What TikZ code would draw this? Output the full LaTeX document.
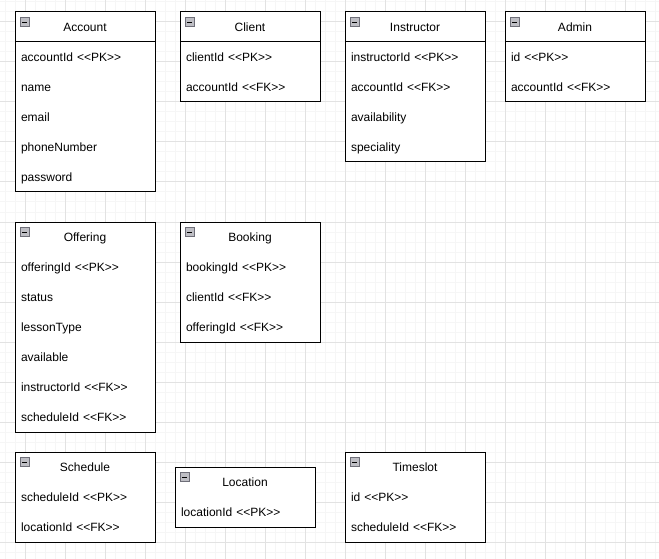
\documentclass[tikz,border=0pt]{standalone}
\usepackage{fontspec}
\setmainfont{Liberation Sans}[Ligatures=TeXOff]
\usetikzlibrary{positioning, fit}
\definecolor{minorgrid}{RGB}{246,246,246}
\definecolor{majorgrid}{RGB}{226,226,226}
\definecolor{iconfill}{RGB}{190,190,196}
\definecolor{iconline}{RGB}{110,110,120}
\tikzstyle{thin grid} = [draw=minorgrid, line width=1pt, step=10pt]
\tikzstyle{thick grid} = [draw=majorgrid, line width=1pt, step=40pt]
\tikzstyle{ehead} = [rectangle, minimum width=140pt, minimum height=30pt, inner sep=0pt, outer sep=0pt, text height=11pt, text depth=1.6pt, text centered, draw=black, fill=white, line width=1pt]
\tikzstyle{erow} = [rectangle, minimum width=140pt, minimum height=30pt, inner xsep=6pt, inner ysep=0pt, outer sep=0pt, text height=11pt, text depth=1.6pt, text width=128pt, align=left, fill=white]
\tikzstyle{entity} = [rectangle, inner sep=0pt, outer sep=0pt, draw=black, line width=1pt]
\tikzstyle{minbox} = [rectangle, minimum size=9pt, inner sep=0pt, outer sep=0pt, draw=iconline, fill=iconfill, line width=0.8pt,
  path picture={\draw[black, line width=0.9pt] ([xshift=2pt]path picture bounding box.west) -- ([xshift=-2pt]path picture bounding box.east);}]

\begin{document}
\begin{tikzpicture}[x=1pt, y=-1pt, node distance=0pt, font=\fontsize{12}{14}\selectfont]
\useasboundingbox (0,0) rectangle (659,559);
% background grid
\begin{scope}
\clip (0,0) rectangle (659,559);
\fill[white] (0,0) rectangle (659,559);
\draw[thin grid, xshift=5pt, yshift=-2pt] (-20,-20) grid (680,580);
\draw[thick grid, xshift=25pt, yshift=-22pt] (-40,-40) grid (680,600);
\end{scope}

% Account
\node (account) [ehead, anchor=north west] at (15,12) {Account};
\node (accountid) [erow, below=of account] {accountId <<PK>>};
\node (accountname) [erow, below=of accountid] {name};
\node (accountemail) [erow, below=of accountname] {email};
\node (accountphone) [erow, below=of accountemail] {phoneNumber};
\node (accountpass) [erow, below=of accountphone] {password};
\node (accountbox) [entity, fit=(account) (accountpass)] {};
\node (accounticon) [minbox, below right=5.5pt and 5pt of account.north west] {};

% Client
\node (client) [ehead, anchor=north west] at (180,12) {Client};
\node (clientid) [erow, below=of client] {clientId <<PK>>};
\node (clientacc) [erow, below=of clientid] {accountId <<FK>>};
\node (clientbox) [entity, fit=(client) (clientacc)] {};
\node (clienticon) [minbox, below right=5.5pt and 5pt of client.north west] {};

% Instructor
\node (instructor) [ehead, anchor=north west] at (345,12) {Instructor};
\node (instructorid) [erow, below=of instructor] {instructorId <<PK>>};
\node (instructoracc) [erow, below=of instructorid] {accountId <<FK>>};
\node (instructoravail) [erow, below=of instructoracc] {availability};
\node (instructorspec) [erow, below=of instructoravail] {speciality};
\node (instructorbox) [entity, fit=(instructor) (instructorspec)] {};
\node (instructoricon) [minbox, below right=5.5pt and 5pt of instructor.north west] {};

% Admin
\node (admin) [ehead, anchor=north west] at (505,12) {Admin};
\node (adminid) [erow, below=of admin] {id <<PK>>};
\node (adminacc) [erow, below=of adminid] {accountId <<FK>>};
\node (adminbox) [entity, fit=(admin) (adminacc)] {};
\node (adminicon) [minbox, below right=5.5pt and 5pt of admin.north west] {};

% Offering
\node (offering) [ehead, anchor=north west] at (15,222) {Offering};
\node (offeringid) [erow, below=of offering] {offeringId <<PK>>};
\node (offeringstatus) [erow, below=of offeringid] {status};
\node (offeringtype) [erow, below=of offeringstatus] {lessonType};
\node (offeringavail) [erow, below=of offeringtype] {available};
\node (offeringinst) [erow, below=of offeringavail] {instructorId <<FK>>};
\node (offeringsched) [erow, below=of offeringinst] {scheduleId <<FK>>};
\node (offeringbox) [entity, fit=(offering) (offeringsched)] {};
\node (offeringicon) [minbox, below right=5.5pt and 5pt of offering.north west] {};

% Booking
\node (booking) [ehead, anchor=north west] at (180,222) {Booking};
\node (bookingid) [erow, below=of booking] {bookingId <<PK>>};
\node (bookingclient) [erow, below=of bookingid] {clientId <<FK>>};
\node (bookingoffer) [erow, below=of bookingclient] {offeringId <<FK>>};
\node (bookingbox) [entity, fit=(booking) (bookingoffer)] {};
\node (bookingicon) [minbox, below right=5.5pt and 5pt of booking.north west] {};

% Schedule
\node (schedule) [ehead, anchor=north west] at (15,452) {Schedule};
\node (scheduleid) [erow, below=of schedule] {scheduleId <<PK>>};
\node (scheduleloc) [erow, below=of scheduleid] {locationId <<FK>>};
\node (schedulebox) [entity, fit=(schedule) (scheduleloc)] {};
\node (scheduleicon) [minbox, below right=5.5pt and 5pt of schedule.north west] {};

% Location
\node (location) [ehead, anchor=north west] at (175,467) {Location};
\node (locationid) [erow, below=of location] {locationId <<PK>>};
\node (locationbox) [entity, fit=(location) (locationid)] {};
\node (locationicon) [minbox, below right=5.5pt and 5pt of location.north west] {};

% Timeslot
\node (timeslot) [ehead, anchor=north west] at (345,452) {Timeslot};
\node (timeslotid) [erow, below=of timeslot] {id <<PK>>};
\node (timeslotsched) [erow, below=of timeslotid] {scheduleId <<FK>>};
\node (timeslotbox) [entity, fit=(timeslot) (timeslotsched)] {};
\node (timesloticon) [minbox, below right=5.5pt and 5pt of timeslot.north west] {};
\end{tikzpicture}
\end{document}
